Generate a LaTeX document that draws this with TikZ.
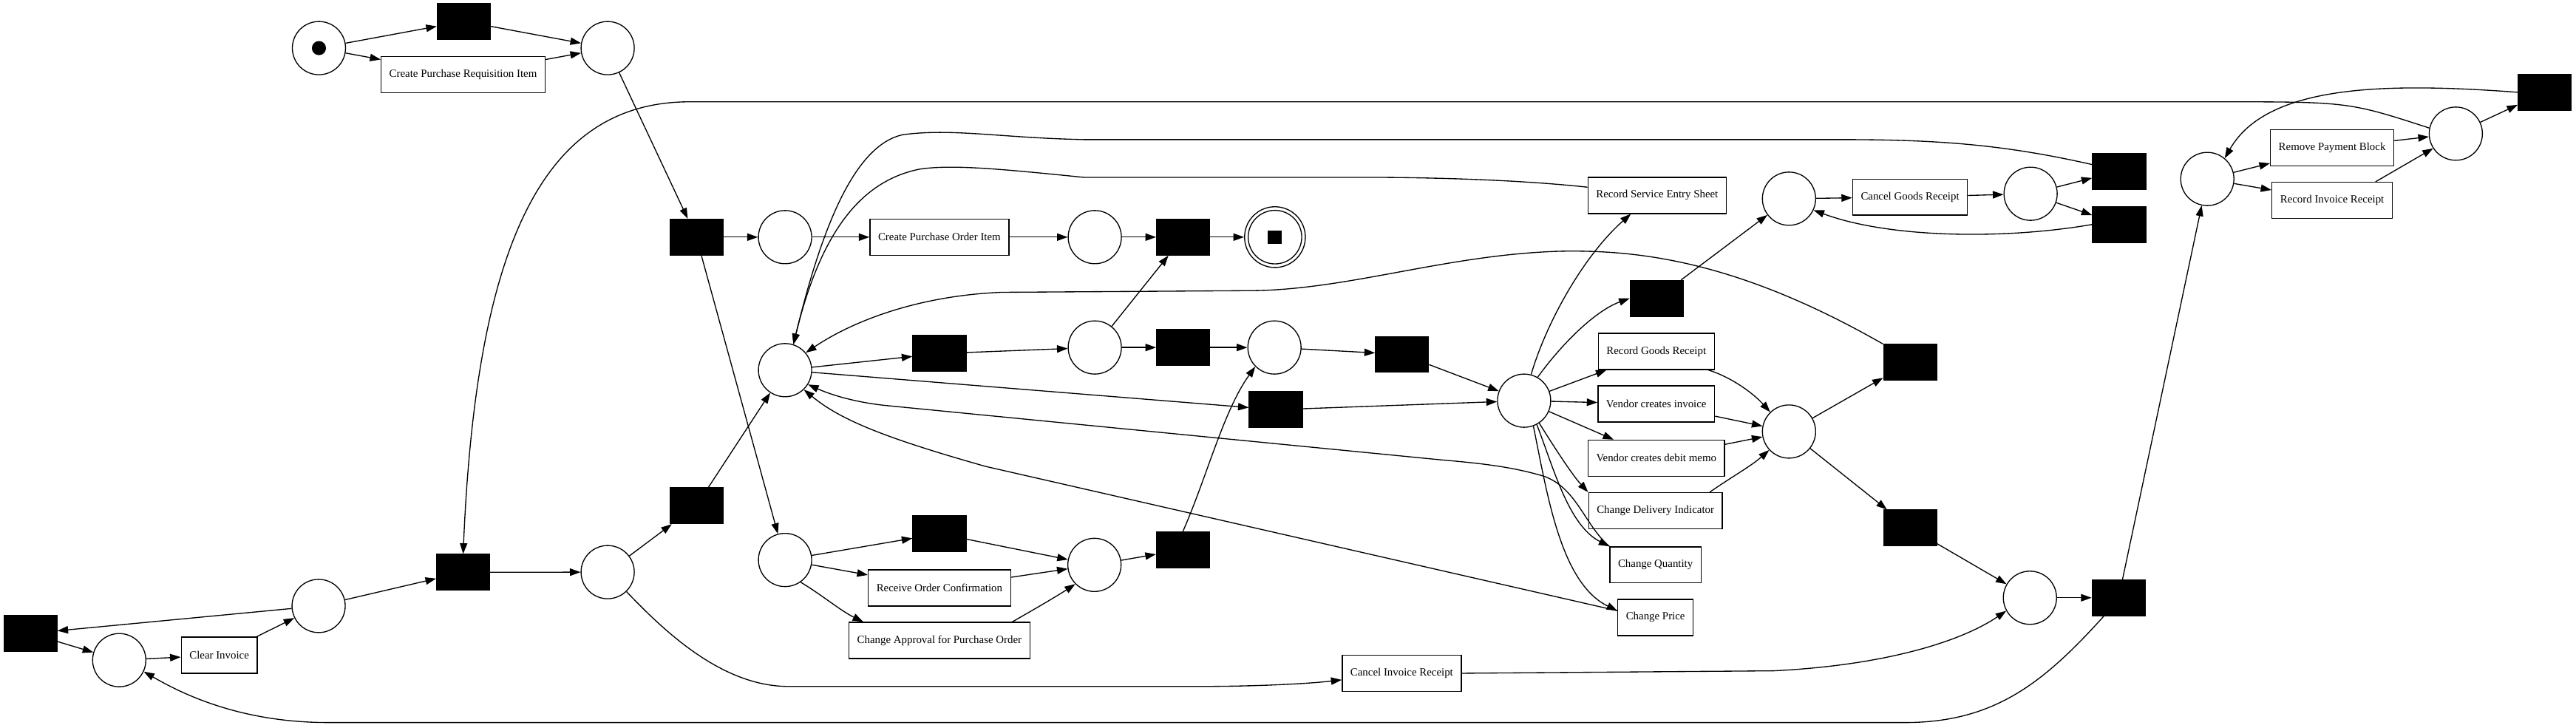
\documentclass[tikz,border=0pt]{standalone}
\usepackage{fontspec}
\setmainfont{Liberation Serif}
\usetikzlibrary{arrows.meta}
\begin{document}
\begin{tikzpicture}[x=1pt,y=-1pt,
  place/.style={circle,draw,line width=0.6pt,minimum size=32.4pt,inner sep=0pt},
  silent/.style={rectangle,fill=black,draw=black,minimum width=32.5pt,minimum height=22pt,inner sep=0pt},
  task/.style={rectangle,draw,line width=0.6pt,minimum height=22pt,inner xsep=5pt,inner ysep=0pt,font=\fontsize{6.7}{8}\selectfont},
  arc/.style={-{Triangle[length=6.5pt,width=4.5pt]},line width=0.6pt}]
  \useasboundingbox (0,0) rectangle (1568.5,443);
  % start place with its token, end place:
  \node[place] (ps) at (194.2,29.3) {};
  \fill (ps) circle (4.3pt);
  \node[place,minimum size=37pt] (pe) at (776.3,144.4) {};
  \draw[line width=0.6pt] (pe) circle (16.3pt);
  \fill ([shift={(-4.3,-4)}]pe.center) rectangle ++(8.6,8);
  % places:
  \node[place] (p2) at (370,29.3) {};
  \node[place] (p3) at (478,144.4) {};
  \node[place] (p4) at (666.6,144.4) {};
  \node[place] (p5) at (478,225.4) {};
  \node[place] (p6) at (666.6,211.6) {};
  \node[place] (p7) at (776,211.6) {};
  \node[place] (p8) at (928,244) {};
  \node[place] (p9) at (1089.3,262.8) {};
  \node[place] (p10) at (1089.3,121) {};
  \node[place] (p11) at (1236.4,118) {};
  \node[place] (p12) at (1344,109) {};
  \node[place] (p13) at (1495.3,81.4) {};
  \node[place] (p14) at (1236,364) {};
  \node[place] (p15) at (478,341) {};
  \node[place] (p16) at (666.4,344) {};
  \node[place] (p17) at (370,348.4) {};
  \node[place] (p18) at (194,369) {};
  \node[place] (p19) at (72.6,402) {};
  % silent transitions:
  \node[silent] (t1) at (282.4,13) {};
  \node[silent] (t2) at (424,144.4) {};
  \node[silent] (t3) at (720.4,144.4) {};
  \node[silent] (t4) at (572,215.3) {};
  \node[silent] (t5) at (720.4,211.6) {};
  \node[silent] (t6) at (853.7,215.8) {};
  \node[silent] (t7) at (776.8,249.5) {};
  \node[silent] (t8) at (1008.7,181.7) {};
  \node[silent] (t9) at (1163,220.7) {};
  \node[silent] (t10) at (1163,321.5) {};
  \node[silent] (t11) at (1290.3,104.2) {};
  \node[silent] (t12) at (1290.3,136.7) {};
  \node[silent] (t13) at (1549.4,56.2) {};
  \node[silent] (t14) at (1290,364) {};
  \node[silent] (t15) at (572,325) {};
  \node[silent] (t16) at (720.3,334.7) {};
  \node[silent] (t17) at (424,308) {};
  \node[silent] (t18) at (282,348.5) {};
  \node[silent] (t19) at (18.5,385.7) {};
  % labelled transitions:
  \node[task] (cpri) at (282,45.5) {Create Purchase Requisition Item};
  \node[task] (cpoi) at (572,144.4) {Create Purchase Order Item};
  \node[task] (rses) at (1009,119) {Record Service Entry Sheet};
  \node[task] (rgr) at (1008.5,214) {Record Goods Receipt};
  \node[task] (vci) at (1008.5,246) {Vendor creates invoice};
  \node[task] (vcdm) at (1008.5,279) {Vendor creates debit memo};
  \node[task] (cdi) at (1008,311) {Change Delivery Indicator};
  \node[task] (cq) at (1008,344) {Change Quantity};
  \node[task] (cp) at (1008,376) {Change Price};
  \node[task] (cgr) at (1163,120) {Cancel Goods Receipt};
  \node[task] (rpb) at (1420,90) {Remove Payment Block};
  \node[task] (rir) at (1420,122) {Record Invoice Receipt};
  \node[task] (roc) at (572,358) {Receive Order Confirmation};
  \node[task] (capo) at (572,390) {Change Approval for Purchase Order};
  \node[task] (cir) at (853.5,410) {Cancel Invoice Receipt};
  \node[task] (ci) at (133.5,399) {Clear Invoice};
  % straight arcs:
  \draw[arc] (ps) -- (t1);
  \draw[arc] (ps) -- (cpri);
  \draw[arc] (t1) -- (p2);
  \draw[arc] (cpri) -- (p2);
  \draw[arc] (p2) -- (t2);
  \draw[arc] (t2) -- (p3);
  \draw[arc] (t2) -- (p15);
  \draw[arc] (p3) -- (cpoi);
  \draw[arc] (cpoi) -- (p4);
  \draw[arc] (p4) -- (t3);
  \draw[arc] (t3) -- (pe);
  \draw[arc] (p5) -- (t4);
  \draw[arc] (t4) -- (p6);
  \draw[arc] (p6) -- (t3);
  \draw[arc] (p6) -- (t5);
  \draw[arc] (t5) -- (p7);
  \draw[arc] (p7) -- (t6);
  \draw[arc] (t6) -- (p8);
  \draw[arc] (p5) -- (t7);
  \draw[arc] (t7) -- (p8);
  \draw[arc] (p8) -- (rgr);
  \draw[arc] (p8) -- (vci);
  \draw[arc] (p8) -- (vcdm);
  \draw[arc] (vci) -- (p9);
  \draw[arc] (vcdm) -- (p9);
  \draw[arc] (p9) -- (t9);
  \draw[arc] (p9) -- (t10);
  \draw[arc] (t10) -- (p14);
  \draw[arc] (p14) -- (t14);
  \draw[arc] (t14) -- (p12);
  \draw[arc] (t8) -- (p10);
  \draw[arc] (p10) -- (cgr);
  \draw[arc] (cgr) -- (p11);
  \draw[arc] (p11) -- (t11);
  \draw[arc] (p11) -- (t12);
  \draw[arc] (p12) -- (rpb);
  \draw[arc] (p12) -- (rir);
  \draw[arc] (rpb) -- (p13);
  \draw[arc] (p13) -- (t13);
  \draw[arc] (p15) -- (t15);
  \draw[arc] (p15) -- (roc);
  \draw[arc] (t15) -- (p16);
  \draw[arc] (roc) -- (p16);
  \draw[arc] (p16) -- (t16);
  \draw[arc] (p17) -- (t17);
  \draw[arc] (t17) -- (p5);
  \draw[arc] (t18) -- (p17);
  \draw[arc] (p18) -- (t18);
  \draw[arc] (p18) -- (t19);
  \draw[arc] (t19) -- (p19);
  \draw[arc] (p19) -- (ci);
  \draw[arc] (ci) -- (p18);
  % arcs out of the hub place:
  \draw[arc] (p8.75) .. controls (942,195) and (965,155) .. ([xshift=-16pt]rses.south);
  \draw[arc] (p8.60) .. controls (952,208) and (972,189) .. (t8.west);
  \draw[arc] (p8.-56) .. controls (948,275) and (958,290) .. (cdi.north west);
  \draw[arc] (p8.-62) .. controls (946,285) and (955,320) .. (cq.north west);
  \draw[arc] (p8.-70) .. controls (942,300) and (950,355) .. (cp.170);
  % arcs into p9 and p14:
  \draw[arc] ([xshift=-4pt]rgr.south east) .. controls (1055,230) and (1068,240) .. (p9.134);
  \draw[arc] ([xshift=-8pt]cdi.north east) .. controls (1055,290) and (1066,284) .. (p9.-137);
  \draw[arc] (cir.east) -- (1080,408.5) .. controls (1150,405) and (1195,390) .. (p14.-151);
  % small loops on the right:
  \draw[arc] (t12.west) .. controls (1220,146) and (1150,145) .. (p10.-25);
  \draw[arc] ([xshift=-10.5pt]rir.north east) .. controls (1458,104) and (1470,97) .. (p13.-147);
  \draw[arc] (t13.west) .. controls (1450,50) and (1380,52) .. (p12.50);
  % long arcs back to the left:
  \draw[arc] (p13.168) .. controls (1430,62) .. (1350,62) -- (420,62)
    .. controls (330,62) and (290,150) .. (t18.north);
  \draw[arc] ([yshift=4pt]t11.west) .. controls (1220,88) and (1180,85) .. (1120,85) -- (660,85)
    .. controls (610,84) and (580,78) .. (550,82) .. controls (520,88) and (500,140) .. (p5.72);
  \draw[arc] ([yshift=5pt]rses.west) .. controls (930,110) and (880,108) .. (830,108) -- (660,108)
    .. controls (610,103) and (580,100) .. (560,103) .. controls (525,110) and (500,140) .. (p5.72);
  \draw[arc] (t9.north west) .. controls (1060,160) and (1000,152) .. (950,153)
    .. controls (880,155) and (820,177) .. (760,177) -- (610,178)
    .. controls (560,180) and (520,195) .. (p5.40);
  \draw[arc] (cq.north west) .. controls (965,320) and (960,297) .. (940,290)
    .. controls (920,284) and (900,282) .. (877,280) -- (540,247)
    .. controls (520,245) and (505,240) .. (p5.-32);
  \draw[arc] (cp.170) -- (600,284) .. controls (540,267) and (512,256) .. (p5.-46);
  \draw[arc] ([xshift=-9pt]t14.south) .. controls (1245,415) and (1215,440) .. (1160,440) -- (200,440)
    .. controls (150,440) and (115,425) .. (p19.-25);
  % lower branch:
  \draw[arc] (p15.-55) .. controls (500,362) and (512,372) .. ([xshift=9pt]capo.north west);
  \draw[arc] ([xshift=-11pt]capo.north east) .. controls (628,372) and (642,364) .. (p16.-135);
  \draw[arc] (t16.north) .. controls (735,290) and (745,250) .. (p7.-135);
  \draw[arc] (p17.-46) .. controls (405,385) and (440,418) .. (480,418) -- (730,418)
    .. controls (770,418) and (800,416) .. ([yshift=-4pt]cir.west);
\end{tikzpicture}
\end{document}
